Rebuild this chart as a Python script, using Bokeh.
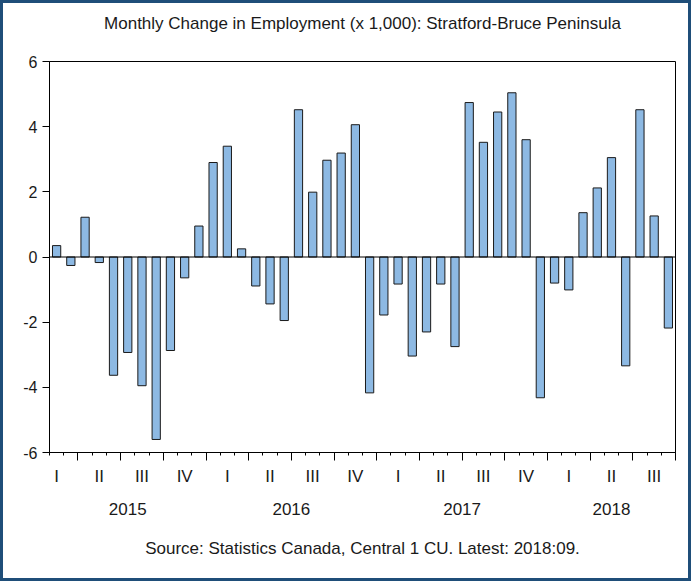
from bokeh.plotting import figure
from bokeh.models import (ColumnDataSource, FixedTicker, LinearAxis, Span,
                          Range1d, CustomJSTickFormatter)
from bokeh.embed import file_html
from bokeh.resources import INLINE

# ---- data (monthly change in employment, thousands), 2015:02 .. 2018:09 ----
start_year = 2015
start_month = 2
values = [0.35, -0.26, 1.22, -0.17, -3.63, -2.93, -3.95, -5.60, -2.87, -0.64, 0.95,
          2.90, 3.40, 0.25, -0.89, -1.44, -1.95, 4.52, 1.99, 2.97, 3.19, 4.06, -4.17, -1.78,
          -0.83, -3.04, -2.30, -0.83, -2.75, 4.74, 3.52, 4.45, 5.04, 3.60, -4.32, -0.80,
          -1.01, 1.36, 2.12, 3.05, -3.34, 4.52, 1.26, -2.18]
quarter_names = ["I", "II", "III", "IV"]
years = [2015, 2016, 2017, 2018]
y_ticks = [-6, -4, -2, 0, 2, 4, 6]

title_text = "Monthly Change in Employment (x 1,000): Stratford-Bruce Peninsula"
source_text = "Source: Statistics Canada, Central 1 CU. Latest: 2018:09."

# ---- derived positions ----
n = len(values)
slots = list(range(n))
month_year = []
for i in slots:
    m0 = (start_month - 1) + i
    month_year.append((start_year + m0 // 12, m0 % 12 + 1))

month_bounds = [i - 0.5 for i in range(n + 1)]
quarter_bounds = [i - 0.5 for i in range(n + 1)
                  if i == n or (i > 0 and (month_year[i][1] - 1) % 3 == 0)]

q_centers, q_labels = [], []
for y in years:
    for q in range(4):
        s = [i for i in slots if month_year[i][0] == y and (month_year[i][1] - 1) // 3 == q]
        if s:
            full_center = (y - start_year) * 12 + 3 * q + 1 - (start_month - 1)
            q_centers.append(full_center)
            q_labels.append(quarter_names[q])

y_centers = []
for y in years:
    s = [i for i in slots if month_year[i][0] == y]
    y_centers.append(sum(s) / len(s))
y_labels = [str(y) for y in years]

FONT = "Liberation Sans"
TXT = "#1a1a1a"

p = figure(width=691, height=581,
           x_range=Range1d(-0.5, n - 0.5), y_range=Range1d(-6, 6),
           x_axis_type=None, output_backend="svg", toolbar_location=None,
           min_border_left=46, min_border_right=19, min_border_top=58,
           min_border_bottom=132,
           styles={"border": "3px solid #1f4e79"})

p.background_fill_color = "white"
p.border_fill_color = "white"
p.outline_line_color = "black"
p.outline_line_width = 1
p.grid.visible = False

src = ColumnDataSource(dict(x=slots, v=values))
p.vbar(x="x", top="v", bottom=0, width=0.58, source=src,
       fill_color="#8db9e3", line_color="#1a1a1a", line_width=1)

p.add_layout(Span(location=0, dimension="width", line_color="black", line_width=1))

# y axis
ya = p.yaxis[0]
ya.ticker = FixedTicker(ticks=y_ticks)
ya.formatter = CustomJSTickFormatter(code="return String(tick);")
ya.major_tick_out = 7
ya.major_tick_in = 0
ya.minor_tick_out = 0
ya.minor_tick_in = 0
ya.axis_line_color = "black"
ya.major_tick_line_color = "black"
ya.major_label_text_font = FONT
ya.major_label_text_font_size = "16px"
ya.major_label_text_color = TXT
ya.major_label_standoff = 5

# title as label of an empty top axis
axT = LinearAxis(ticker=FixedTicker(ticks=[]),
                 major_tick_out=0, major_tick_in=0, minor_tick_out=0, minor_tick_in=0,
                 axis_line_color=None, major_label_standoff=0,
                 axis_label=title_text, axis_label_text_font=FONT,
                 axis_label_text_font_style="normal", axis_label_text_font_size="17px",
                 axis_label_text_color=TXT, axis_label_standoff=29)
p.add_layout(axT, "above")

# bottom axis: ticks only
axA = LinearAxis(ticker=FixedTicker(ticks=quarter_bounds, minor_ticks=month_bounds),
                 formatter=CustomJSTickFormatter(code="return '';"),
                 major_tick_out=8, major_tick_in=0, minor_tick_out=3, minor_tick_in=0,
                 axis_line_color="black", major_tick_line_color="black",
                 minor_tick_line_color="black",
                 major_label_text_font_size="1px", major_label_standoff=0)
p.add_layout(axA, "below")

# quarter labels
axB = LinearAxis(ticker=FixedTicker(ticks=q_centers, minor_ticks=[]),
                 formatter=CustomJSTickFormatter(args=dict(labels=q_labels),
                                                 code="return labels[index];"),
                 major_tick_out=0, major_tick_in=0, minor_tick_out=0, minor_tick_in=0,
                 axis_line_color=None, major_tick_line_color=None,
                 major_label_text_font=FONT, major_label_text_font_size="17px",
                 major_label_text_color=TXT, major_label_standoff=6)
p.add_layout(axB, "below")

# year labels + source line
axC = LinearAxis(ticker=FixedTicker(ticks=y_centers, minor_ticks=[]),
                 formatter=CustomJSTickFormatter(args=dict(labels=y_labels),
                                                 code="return labels[index];"),
                 major_tick_out=0, major_tick_in=0, minor_tick_out=0, minor_tick_in=0,
                 axis_line_color=None, major_tick_line_color=None,
                 major_label_text_font=FONT, major_label_text_font_size="17px",
                 major_label_text_color=TXT, major_label_standoff=14,
                 axis_label=source_text, axis_label_text_font=FONT,
                 axis_label_text_font_style="normal", axis_label_text_font_size="17px",
                 axis_label_text_color=TXT, axis_label_standoff=21)
p.add_layout(axC, "below")

open("out.html", "w").write(file_html(p, INLINE))
